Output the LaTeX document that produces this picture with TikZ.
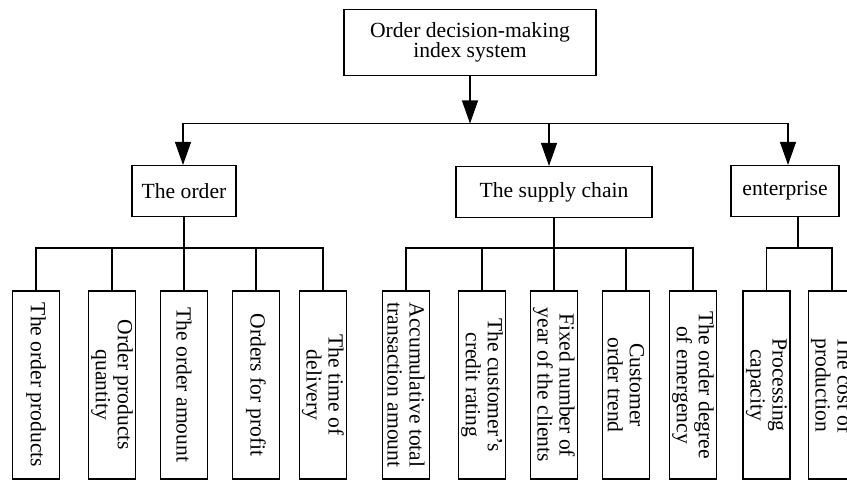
\documentclass[tikz,border=0pt]{standalone}
\usepackage{fontspec}
\setmainfont{Liberation Serif}
\usetikzlibrary{arrows.meta}
\begin{document}
\begin{tikzpicture}[x=1pt,y=-1pt,
  line width=1.1pt,
  arr/.style={-{Triangle[length=23pt,width=16pt]}},
  headbox/.style={draw, align=center, inner sep=0pt,
    font=\fontsize{21.6}{20}\selectfont},
  groupbox/.style={draw, align=center, inner sep=0pt, minimum height=51pt,
    font=\fontsize{21.6}{22}\selectfont},
  leafbox/.style={draw, rotate=-90, align=center, inner sep=0pt,
    minimum width=188pt, minimum height=47pt,
    font=\fontsize{21.6}{22}\selectfont}]
\useasboundingbox (0,0) rectangle (847,481);
\clip (0,0) rectangle (847,481);

% root
\node[headbox, minimum width=252pt, minimum height=66pt] (root) at (470,42.5)
  {Order decision-making\\index system};

% second level
\node[groupbox, minimum width=104pt] (order) at (184,191) {The order};
\node[groupbox, minimum width=196pt] (chain) at (554,192) {The supply chain};
\node[groupbox, minimum width=108pt] (ent) at (785,191) {enterprise};

% first bus with arrows
\coordinate (b1) at (183,123.5);
\coordinate (b2) at (549,123.5);
\coordinate (b3) at (788,123.5);
\draw[arr] (root.south) -- (root.south |- b1);
\draw (b1) -- (b3);
\draw[arr] (b1) -- (b1 |- order.north);
\draw[arr] (b2) -- (b2 |- chain.north);
\draw[arr] (b3) -- (b3 |- ent.north);

% leaves of "The order"
\node[leafbox] (o1) at (36,385) {The order products};
\node[leafbox] (o2) at (112,385) {Order products\\quantity};
\node[leafbox] (o3) at (184,385) {The order amount};
\node[leafbox] (o4) at (256,385) {Orders for profit};
\node[leafbox] (o5) at (323,385) {The time of\\delivery};

% leaves of "The supply chain"
\node[leafbox] (s1) at (406,385) {Accumulative total\\transaction amount};
\node[leafbox] (s2) at (482,385) {The customer’s\\credit rating};
\node[leafbox] (s3) at (554,385) {Fixed number of\\year of the clients};
\node[leafbox] (s4) at (626,385) {Customer\\order trend};
\node[leafbox] (s5) at (693,385) {The order degree\\of emergency};

% leaves of "enterprise"
\node[leafbox] (e1) at (766.5,385) {Processing\\capacity};
\node[leafbox] (e2) at (832,385) {The cost of\\production};

% second-level buses
\coordinate (ob) at (184,248);
\coordinate (sb) at (554,248);
\coordinate (eb) at (798,248);

\draw (order.south) -- (ob);
\draw (o1.west) |- (ob) -| (o5.west);
\foreach \n in {o2,o3,o4} \draw (\n.west) -- (\n.west |- ob);

\draw (chain.south) -- (sb);
\draw (s1.west) |- (sb) -| (s5.west);
\foreach \n in {s2,s3,s4} \draw (\n.west) -- (\n.west |- sb);

\draw (eb |- ent.south) -- (eb);
\draw (e1.west) |- (eb) -| (e2.west);
\end{tikzpicture}
\end{document}
